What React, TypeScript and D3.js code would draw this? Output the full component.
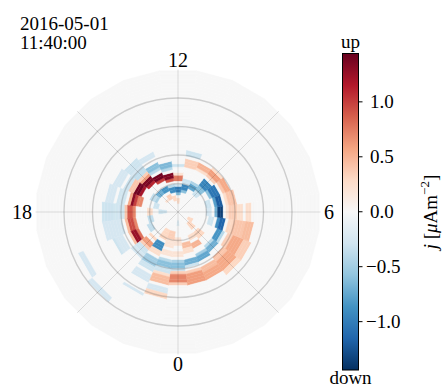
import React from 'react';
import * as d3 from 'd3';

// each cell run: [mlt hour, colat from, colat to, j (uA/m^2)]
const r2Dusk = [
  [12, 16, 17, -0.3],
  [13, 15, 16, -0.4], [13, 16, 18, -0.65],
  [14, 16, 17, -0.4], [14, 17, 19, -0.6],
  [15, 18, 20, -0.35], [15, 20, 21, -0.25],
  [16, 19, 21, -0.3],
  [17, 19, 22, -0.28],
  [18, 19, 23, -0.28],
  [19, 20, 25, -0.25],
  [20, 21, 24, -0.25],
  [14, 21, 23, -0.25], [15, 21, 24, -0.3], [16, 22, 25, -0.25],
  [17, 23, 26, -0.25], [18, 23, 27, -0.3], [19, 25, 27, -0.25], [20, 24, 25, -0.3],
];

const r1Dusk = [
  [12, 11, 13, 0.75], [12, 13, 14, 0.2],
  [13, 11, 12, 0.9], [13, 12, 14, 1.35],
  [14, 12, 13, 1.0], [14, 13, 15, 1.4],
  [15, 13, 14, 1.1], [15, 14, 16, 1.35], [15, 16, 17, 0.6], [15, 17, 18, 0.35],
  [16, 14, 15, 1.2], [16, 15, 17, 1.4], [16, 17, 19, 0.4],
  [17, 13, 15, 0.7], [17, 15, 16, 1.0], [17, 16, 17, 1.3], [17, 17, 18, 0.55],
  [18, 15, 16, 0.7], [18, 16, 18, 0.9], [18, 18, 19, 0.4],
  [19, 15, 16, 0.7], [19, 16, 18, 0.95], [19, 18, 19, 0.45],
  [20, 15, 16, 0.8], [20, 16, 18, 1.25], [20, 18, 19, 0.45],
  [21, 14, 16, 0.6], [21, 16, 17, 0.35],
];

const r1Day = [
  [16, 8, 10, -0.45],
  [15, 8, 10, -0.7],
  [14, 8, 10, -0.85],
  [13, 7, 9, -0.9], [13, 9, 10, -0.4],
  [12, 6, 7, -0.6], [12, 7, 9, -1.0], [12, 9, 10, -0.3],
  [11, 7, 8, -0.6], [11, 8, 10, -0.95], [11, 10, 12, -0.3],
  [10, 9, 11, -0.75], [10, 11, 12, -0.45],
];

const r1Dawn = [
  [9, 8, 10, -0.3], [9, 10, 12, -0.6], [9, 12, 15, -0.95],
  [8, 12, 13, -0.6], [8, 13, 16, -1.05],
  [7, 10, 12, -0.3], [7, 13, 14, -0.8], [7, 14, 16, -1.2],
  [6, 10, 12, -0.25], [6, 13, 14, -0.7], [6, 14, 16, -1.35],
  [5, 11, 13, -0.3], [5, 14, 15, -0.9], [5, 15, 17, -1.15],
  [4, 15, 17, -0.85], [4, 17, 18, -0.4],
  [3, 15, 16, -0.4], [3, 16, 18, -0.7],
  [2, 16, 17, -0.5], [2, 17, 19, -0.75],
  [1, 17, 19, -0.7], [1, 19, 20, -0.3],
  [0, 17, 18, -0.45], [0, 18, 20, -0.6], [0, 20, 21, -0.3],
  [23, 17, 18, -0.4], [23, 18, 20, -0.6], [23, 20, 22, -0.3],
  [22, 12, 15, -0.9], [22, 18, 21, -0.5], [22, 21, 23, -0.3],
  [21, 17, 19, -0.3], [21, 19, 21, -0.25],
];

const r2Dawn = [
  [11, 16, 19, 0.35],
  [10, 16, 17, 0.25], [10, 17, 19, 0.5],
  [9, 16, 17, 0.35], [9, 17, 19, 0.6], [9, 19, 20, 0.25],
  [8, 17, 18, 0.4], [8, 18, 20, 0.55],
  [7, 17, 18, 0.25], [7, 18, 21, 0.4],
  [6, 17, 18, 0.2], [6, 18, 21, 0.35], [6, 21, 23, 0.25], [6, 24, 26, 0.25],
  [5, 18, 20, 0.3], [5, 20, 24, 0.4], [5, 24, 27, 0.45],
  [4, 19, 21, 0.35], [4, 21, 25, 0.55], [4, 25, 28, 0.35],
  [3, 20, 22, 0.4], [3, 22, 26, 0.55], [3, 26, 28, 0.3],
  [2, 21, 23, 0.45], [2, 23, 26, 0.55],
  [1, 21, 22, 0.35], [1, 22, 26, 0.6],
  [0, 21, 22, 0.35], [0, 22, 25, 0.7], [0, 25, 26, 0.35],
  [23, 22, 23, 0.25], [23, 23, 26, 0.45], [23, 29, 31, 0.3],
];

const polarCap = [
  [13, 4, 6, 0.3], [14, 5, 7, 0.35], [15, 5, 6, 0.2], [12, 3, 5, 0.25],
  [4, 4, 6, 0.3], [3, 5, 8, 0.3],
  [3, 9, 12, 0.3], [2, 9, 11, 0.25], [2, 12, 14, 0.5], [1, 11, 13, 0.45], [1, 13, 15, 0.25],
  [0, 3, 5, -0.2], [0, 9, 12, 0.2], [0, 14, 16, 0.2],
  [18, 4, 7, -0.3], [17, 7, 9, -0.3], [18, 9, 11, 0.25],
  [19, 9, 11, -0.35], [20, 10, 12, -0.35], [16, 9, 11, -0.35],
  [22, 7, 11, 0.3], [23, 7, 10, 0.35], [23, 10, 13, 0.2], [23, 14, 16, 0.2],
  [22, 15, 17, 0.25], [21, 12, 13, 0.3],
];

const outerPatches = [
  [11, 20, 22, -0.3],
  [20, 36, 38, -0.25], [21, 38, 40, -0.25],
  [22, 24, 27, -0.25], [22, 31, 32, -0.25], [23, 27, 29, -0.25],
];

const mltLabels = [
  { mlt: 12, text: '12' },
  { mlt: 6, text: '6' },
  { mlt: 18, text: '18' },
  { mlt: 0, text: '0' },
];
const colatCircles = [10, 20, 30, 40];
const cbarTicks = [-1.0, -0.5, 0.0, 0.5, 1.0];
const timestamp = ['2016-05-01', '11:40:00'];
// matplotlib RdBu_r anchors, low to high
const rdbuR = ['#053061', '#2166ac', '#4393c3', '#92c5de', '#d1e5f0', '#f7f7f7', '#fddbc7', '#f4a582', '#d6604d', '#b2182b', '#67001f'];

const N_MLT = 24;
const N_COLAT = 50;
const VMAX = 1.44;
const FONT = '"Liberation Serif", "DejaVu Serif", serif';

export default function App() {
  const W = 443, H = 389;
  const cx = 178, cy = 212, R = 142.5;

  const r = d3.scaleLinear().domain([0, N_COLAT]).range([0, R]);
  const ang = d3.scaleLinear().domain([0, 24]).range([-Math.PI / 2, 1.5 * Math.PI]);
  const color = d3.scaleSequential(d3.piecewise(d3.interpolateRgb, rdbuR)).domain([-VMAX, VMAX]).clamp(true);

  const pt = (mlt, colat) => {
    const a = ang(mlt);
    return [cx + r(colat) * Math.cos(a), cy - r(colat) * Math.sin(a)];
  };

  // fill the grid, later groups overwrite earlier ones
  const grid = d3.range(N_MLT).map(() => d3.range(N_COLAT).map(() => 0));
  [r2Dusk, r1Dusk, r1Day, r1Dawn, r2Dawn, polarCap, outerPatches].forEach((group) => {
    group.forEach(([h, c0, c1, v]) => {
      for (let c = c0; c < c1; c++) grid[h][c] = v;
    });
  });

  const cells = [];
  grid.forEach((col, h) => {
    col.forEach((v, c) => {
      const pts = [pt(h - 0.5, c), pt(h + 0.5, c), pt(h + 0.5, c + 1), pt(h - 0.5, c + 1)];
      cells.push({ key: `${h}-${c}`, d: 'M' + pts.map((p) => p.join(',')).join('L') + 'Z', fill: color(v) });
    });
  });

  // colorbar
  const cbX = 342.5, cbW = 16, cbTop = 53.5, cbBot = 370;
  const cy2 = d3.scaleLinear().domain([-VMAX, VMAX]).range([cbBot, cbTop]);
  const stops = d3.range(0, 1.0001, 0.05);
  const fmt = (v) => d3.format('.1f')(v).replace('-', '\u2212');

  return (
    <svg width={W} height={H} style={{ position: 'absolute', left: 0, top: 0 }} fontFamily={FONT}>
      <defs>
        <linearGradient id="cbar" x1="0" y1="1" x2="0" y2="0">
          {stops.map((t) => (
            <stop key={t} offset={t} stopColor={color(-VMAX + t * 2 * VMAX)} />
          ))}
        </linearGradient>
      </defs>
      <rect width={W} height={H} fill="#fff" />

      <g>
        {cells.map((c) => (
          <path key={c.key} d={c.d} fill={c.fill} stroke={c.fill} strokeWidth={0.4} />
        ))}
      </g>

      <g fill="none" stroke="#000">
        {colatCircles.map((c) => (
          <circle key={c} cx={cx} cy={cy} r={r(c)} strokeOpacity={0.17} strokeWidth={1.4} />
        ))}
        {d3.range(0, 24, 3).map((h) => {
          const [x, y] = pt(h, N_COLAT);
          return <line key={h} x1={cx} y1={cy} x2={x} y2={y} strokeOpacity={0.12} strokeWidth={1} />;
        })}
      </g>

      <g fontSize={20} fill="#000">
        {mltLabels.map((l) => {
          const [x, y] = pt(l.mlt, N_COLAT + 3.3);
          const anchor = l.mlt === 6 ? 'start' : l.mlt === 18 ? 'end' : 'middle';
          return (
            <text key={l.text} x={l.mlt === 6 ? x - 6 : l.mlt === 18 ? x + 6 : x} y={y} textAnchor={anchor} dominantBaseline="central">
              {l.text}
            </text>
          );
        })}
      </g>

      <g fontSize={19} fill="#000">
        {timestamp.map((t, i) => (
          <text key={t} x={20} y={29.5 + i * 19}>{t}</text>
        ))}
      </g>

      <g>
        <rect x={cbX} y={cbTop} width={cbW} height={cbBot - cbTop} fill="url(#cbar)" stroke="#000" strokeWidth={1} />
        {cbarTicks.map((t) => (
          <g key={t}>
            <line x1={cbX + cbW} x2={cbX + cbW + 4} y1={cy2(t)} y2={cy2(t)} stroke="#000" strokeWidth={1} />
            <text x={t < 0 ? 366 : 370} y={cy2(t)} fontSize={19} dominantBaseline="central">{fmt(t)}</text>
          </g>
        ))}
        <text x={cbX + cbW / 2} y={48} fontSize={19} textAnchor="middle">up</text>
        <text x={cbX + cbW / 2} y={384} fontSize={19} textAnchor="middle">down</text>
        <text transform="translate(437,212) rotate(-90)" fontSize={19} textAnchor="middle">
          <tspan fontStyle="italic">j</tspan>
          <tspan> [</tspan>
          <tspan fontStyle="italic">μ</tspan>
          <tspan>Am</tspan>
          <tspan fontSize={13} dy={-8}>−2</tspan>
          <tspan dy={8}>]</tspan>
        </text>
      </g>
    </svg>
  );
}
